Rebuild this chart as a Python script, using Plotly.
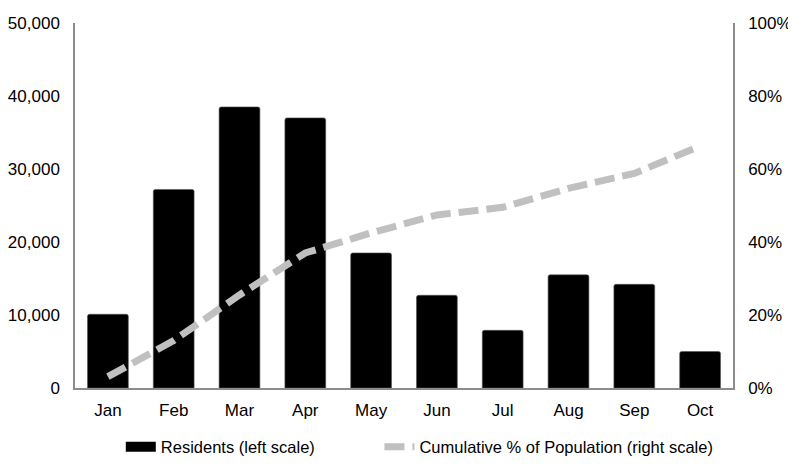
import plotly.graph_objects as go

months = ["Jan", "Feb", "Mar", "Apr", "May", "Jun", "Jul", "Aug", "Sep", "Oct"]
residents = [10100, 27200, 38500, 37000, 18500, 12700, 7900, 15500, 14200, 5000]
cumulative_pct = [0.031, 0.13, 0.255, 0.37, 0.425, 0.474, 0.495, 0.547, 0.588, 0.663]

font_family = "Liberation Sans, Arial, sans-serif"
axis_color = "#8c8c8c"

fig = go.Figure()
fig.add_trace(go.Bar(
    x=months, y=residents, name="Residents (left scale)",
    marker=dict(color="#000000", line=dict(width=0.6, color="#555555")),
    yaxis="y", showlegend=False,
))
# legend entry styled as a wide black swatch, like the original
fig.add_trace(go.Scatter(
    x=[None], y=[None], name="Residents (left scale)" + "\u00a0" * 13,
    mode="lines", line=dict(color="#000000", width=14),
    yaxis="y", hoverinfo="skip",
))
fig.add_trace(go.Scatter(
    x=months, y=cumulative_pct, name="Cumulative % of Population (right scale)",
    mode="lines", line=dict(color="#c0c0c0", width=7, dash="20px,8px"),
    yaxis="y2",
))

fig.update_layout(
    width=796, height=469,
    margin=dict(l=67, r=71, t=15, b=89, autoexpand=False),
    paper_bgcolor="white", plot_bgcolor="white",
    font=dict(family=font_family, size=17, color="#000000"),
    bargap=0.38,
    barcornerradius=2,
    showlegend=True,
    legend=dict(orientation="h", x=0.524, xanchor="center", y=-0.162, yanchor="middle",
                font=dict(size=16.5), traceorder="normal"),
    xaxis=dict(showline=True, linecolor=axis_color, linewidth=1.5, ticks="",
               showgrid=False, ticklabelstandoff=6, zeroline=False, automargin=False),
    yaxis=dict(range=[0, 50000], dtick=10000, tickformat=",", showline=True,
               linecolor=axis_color, linewidth=1.5, showgrid=False, zeroline=False,
               ticks="", ticklabelstandoff=10, automargin=False),
    yaxis2=dict(range=[0, 1], dtick=0.2, tickformat=".0%", overlaying="y", side="right",
                showline=True, linecolor=axis_color, linewidth=1.5, showgrid=False,
                zeroline=False, ticks="", ticklabelstandoff=10, automargin=False),
)

fig.write_html("out.html")
